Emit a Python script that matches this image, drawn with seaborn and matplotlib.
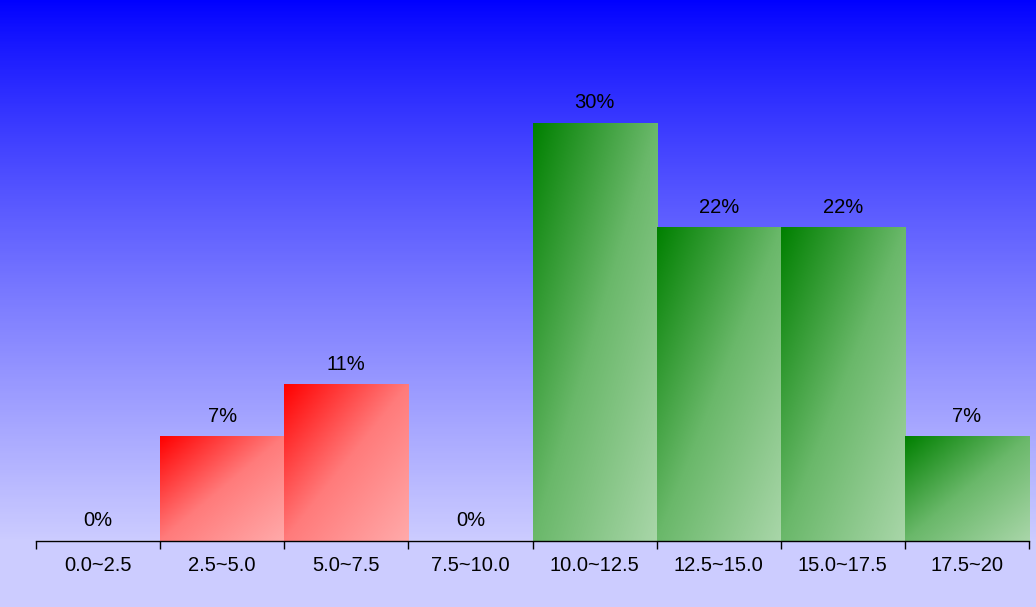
import matplotlib
matplotlib.use('Agg')
import matplotlib.pyplot as plt
import numpy as np
import pandas as pd
import seaborn as sns
from matplotlib.colors import LinearSegmentedColormap


# Data
bins = ['0.0~2.5', '2.5~5.0', '5.0~7.5', '7.5~10.0',
        '10.0~12.5', '12.5~15.0', '15.0~17.5', '17.5~20']
counts = [0, 2, 3, 0, 8, 6, 6, 2]
groups = ['low', 'low', 'low', 'low', 'high', 'high', 'high', 'high']

sns.set_theme(style='white')
plt.rcParams['font.family'] = ['Liberation Sans', 'DejaVu Sans']

total = sum(counts)
df = pd.DataFrame({'bin': bins, 'count': counts, 'group': groups})
df['pct'] = [round(100 * c / total) for c in counts]

W, H = 1036, 607
fig = plt.figure(figsize=(W / 100, H / 100), dpi=100)

left, right, base = 36, 1029, 541

# background gradient blue -> lavender, flat below the axis
bg = fig.add_axes([0, 0, 1, 1])
bg_cmap = LinearSegmentedColormap.from_list('bg', ['#0000ff', '#ccccff'])
rows = np.arange(H) / base
grad = np.clip(rows, 0, 1) ** 0.85
bg.imshow(grad.reshape(-1, 1), aspect='auto', cmap=bg_cmap, vmin=0, vmax=1,
          extent=[0, 1, 0, 1], origin='upper')
bg.axis('off')

ax = fig.add_axes([left / W, (H - base) / H, (right - left) / W, base / H])
ax.patch.set_alpha(0)

sns.barplot(data=df, x='bin', y='count', width=1.0, ax=ax,
            color='white', saturation=1, errorbar=None)

ymax = base / 52.25

grad_cmaps = {
    'low': LinearSegmentedColormap.from_list(
        'r', [(0, '#ff0000'), (0.5, '#ff7b7b'), (1, '#ffaaaa')]),
    'high': LinearSegmentedColormap.from_list(
        'g', [(0, '#008000'), (0.5, '#6ab86a'), (1, '#a9d6a9')]),
}
u = np.linspace(0, 1, 200)
uu, vv = np.meshgrid(u, u)
diag = (uu + vv) / 2  # top-left -> bottom-right

for patch, grp, pct in zip(ax.patches, df['group'], df['pct']):
    x0 = patch.get_x()
    w = patch.get_width()
    h = patch.get_height()
    if h > 0:
        patch.set_alpha(0)
        ax.imshow(diag, cmap=grad_cmaps[grp], aspect='auto',
                  extent=[x0, x0 + w, 0, h], origin='upper',
                  interpolation='bilinear', zorder=2)
    ax.annotate('{}%'.format(pct), (x0 + w / 2, h), xytext=(0, 14.4),
                textcoords='offset points', ha='center', va='center',
                fontsize=14.5, color='black', zorder=3)

ax.set_xlim(-0.5, len(bins) - 0.5)
ax.set_ylim(0, ymax)

# ticks at bar edges, labels at centers
ax.set_xticks(np.arange(len(bins) + 1) - 0.5)
ax.set_xticklabels([])
ax.set_xticks(np.arange(len(bins)), minor=True)
ax.set_xticklabels(bins, minor=True, fontsize=14.5, color='black')
ax.tick_params(axis='x', which='major', direction='out', length=6,
               width=1, color='black', bottom=True)
ax.tick_params(axis='x', which='minor', length=0, pad=11)
ax.set_yticks([])
ax.set_xlabel('')
ax.set_ylabel('')
for s in ['top', 'right', 'left']:
    ax.spines[s].set_visible(False)
ax.spines['bottom'].set_color('black')
ax.spines['bottom'].set_linewidth(1)

fig.savefig('out.png', dpi=100)
